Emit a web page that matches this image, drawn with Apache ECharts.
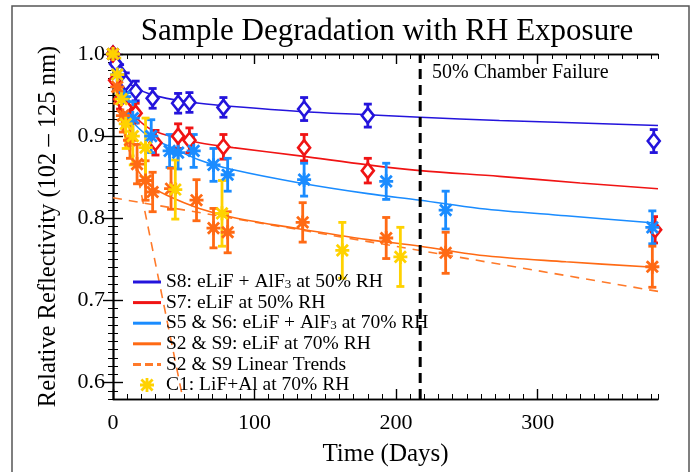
<!DOCTYPE html>
<html>
<head>
<meta charset="utf-8">
<script src="https://cdn.jsdelivr.net/npm/echarts@6/dist/echarts.min.js"></script>
<style>html,body{margin:0;padding:0;background:#fff}#c{width:700px;height:472px}</style>
</head>
<body>
<div id="c"></div>
<script>
// ---------- data ----------
const xMajorTicks = [0, 100, 200, 300];
const yMajorTicks = [0.6, 0.7, 0.8, 0.9, 1.0];
const chamberFailureDay = 217;

const s8Days = [0, 2, 5, 9, 16, 28, 46, 54, 78, 135, 180, 382];
const s8Vals = [1.0, 0.988, 0.977, 0.965, 0.955, 0.946, 0.940, 0.941, 0.935, 0.933, 0.925, 0.894];
const s8Err  = [0.005, 0.01, 0.01, 0.012, 0.012, 0.012, 0.012, 0.012, 0.012, 0.014, 0.014, 0.014];

const s7Days = [0, 1.5, 5, 9, 16, 30, 46, 54, 78, 135, 180, 383];
const s7Vals = [1.0, 0.968, 0.945, 0.935, 0.928, 0.892, 0.900, 0.895, 0.887, 0.886, 0.858, 0.786];
const s7Err  = [0.005, 0.012, 0.012, 0.012, 0.012, 0.015, 0.015, 0.015, 0.015, 0.016, 0.015, 0.016];

const s56Days = [0, 3, 8, 14, 27, 40, 46, 57, 71, 81, 135, 193, 235, 381];
const s56Vals = [1.0, 0.975, 0.948, 0.922, 0.900, 0.882, 0.880, 0.882, 0.865, 0.853, 0.847, 0.845, 0.810, 0.789];
const s56Err  = [0.005, 0.015, 0.018, 0.02, 0.02, 0.02, 0.02, 0.02, 0.02, 0.02, 0.02, 0.022, 0.023, 0.02];

const s29Days = [0, 3, 7, 12, 17, 23, 28, 41, 59, 71, 81, 134, 193, 235, 381];
const s29Vals = [1.0, 0.96, 0.925, 0.895, 0.866, 0.846, 0.832, 0.836, 0.822, 0.788, 0.783, 0.795, 0.776, 0.758, 0.741];
const s29Err  = [0.005, 0.02, 0.02, 0.022, 0.024, 0.024, 0.024, 0.025, 0.025, 0.024, 0.025, 0.024, 0.025, 0.025, 0.025];

const c1Days = [0, 3, 6, 9, 14, 23, 44, 77, 162, 203];
const c1Vals = [1.0, 0.975, 0.945, 0.915, 0.900, 0.886, 0.835, 0.806, 0.761, 0.753];
const c1Err  = [0.005, 0.02, 0.025, 0.03, 0.035, 0.036, 0.036, 0.04, 0.034, 0.036];

// fitted curves
const s8FitDays = [0, 3, 7, 14, 25, 38, 61, 85, 132, 180, 217, 273, 330, 385];
const s8FitVals = [1.0, 0.99, 0.974, 0.961, 0.952, 0.946, 0.940, 0.936, 0.930, 0.926, 0.923, 0.919, 0.916, 0.913];
const s7FitDays = [0, 2, 5, 9, 14, 25, 38, 61, 85, 132, 180, 217, 273, 330, 385];
const s7FitVals = [1.0, 0.975, 0.955, 0.940, 0.927, 0.910, 0.901, 0.892, 0.886, 0.876, 0.865, 0.858, 0.851, 0.843, 0.836];
const s56FitDays = [0, 3, 7, 14, 25, 38, 61, 85, 132, 180, 217, 259, 320, 385];
const s56FitVals = [1.0, 0.97, 0.945, 0.918, 0.900, 0.889, 0.871, 0.859, 0.843, 0.830, 0.822, 0.812, 0.803, 0.794];
const s29FitDays = [0, 3, 7, 14, 20, 26, 38, 61, 85, 132, 180, 217, 259, 320, 385];
const s29FitVals = [1.0, 0.95, 0.91, 0.87, 0.852, 0.840, 0.828, 0.812, 0.801, 0.787, 0.774, 0.766, 0.755, 0.747, 0.740];
const trendADays = [0, 385];
const trendAVals = [0.825, 0.711];
const trendBDays = [0, 49.4];
const trendBVals = [1.0, 0.58];

const names = {
  s8: 'S8: eLiF + AlF3 at 50% RH',
  s7: 'S7: eLiF at 50% RH',
  s56: 'S5 & S6: eLiF + AlF3 at 70% RH',
  s29: 'S2 & S9: eLiF at 70% RH',
  trend: 'S2 & S9 Linear Trends',
  c1: 'C1: LiF+Al at 70% RH'
};
const colors = { s8: '#2414dc', s7: '#f01414', s56: '#1a8cff', s29: '#ff6a14', trend: '#ff7a2a', c1: '#ffd200' };

// ---------- helpers ----------
const FONT = 'Liberation Serif';
const zip2 = (a, b) => a.map((v, i) => [v, b[i]]);
const zip3 = (a, b, c) => a.map((v, i) => [v, b[i], c[i]]);
const ASTER = 'path://M8,0 L12,0 L12,20 L8,20 Z M0,8 L20,8 L20,12 L0,12 Z M3.4,0.6 L19.4,16.6 L16.6,19.4 L0.6,3.4 Z M19.4,3.4 L3.4,19.4 L0.6,16.6 L16.6,0.6 Z';
const LINE_ICON = 'path://M0,0 L28,0 L28,3 L0,3 Z';
const DASH_ICON = 'path://M0,0 L8,0 L8,3 L0,3 Z M12,0 L20,0 L20,3 L12,3 Z M24,0 L28,0 L28,3 L24,3 Z';

function errSeries(name, data, color) {
  return {
    type: 'custom', name: name + ' err', data: data, clip: true, z: 3,
    renderItem: function (params, api) {
      const x = api.value(0), y = api.value(1), e = api.value(2);
      const t = api.coord([x, y + e]), b = api.coord([x, y - e]);
      const hw = 4;
      const st = { stroke: color, lineWidth: 2.8 };
      return { type: 'group', children: [
        { type: 'line', shape: { x1: t[0], y1: t[1], x2: b[0], y2: b[1] }, style: st },
        { type: 'line', shape: { x1: t[0] - hw, y1: t[1], x2: t[0] + hw, y2: t[1] }, style: st },
        { type: 'line', shape: { x1: b[0] - hw, y1: b[1], x2: b[0] + hw, y2: b[1] }, style: st }
      ]};
    }
  };
}
function fitSeries(name, days, vals, color, dashed) {
  return {
    type: 'line', name: name, data: zip2(days, vals), smooth: dashed ? false : 0.35,
    symbol: 'none', z: 2, clip: true,
    lineStyle: { color: color, width: 1.6, type: dashed ? [9, 7] : 'solid' },
    itemStyle: { color: color }
  };
}
function markSeries(name, days, vals, color, kind) {
  return {
    type: 'scatter', name: name, data: zip2(days, vals), z: 4, clip: true,
    symbol: kind === 'diamond' ? 'diamond' : ASTER,
    symbolSize: kind === 'diamond' ? [12, 15] : 14,
    itemStyle: kind === 'diamond'
      ? { color: '#ffffff', borderColor: color, borderWidth: 2.6, opacity: 1 }
      : { color: color, opacity: 1 }
  };
}

const axisLineStyle = { color: '#000', width: 1.4 };
function xAx(pos, major) {
  return {
    type: 'value', min: 0, max: 385, position: pos, gridIndex: 0,
    interval: major ? 100 : 10,
    axisLine: { show: true, lineStyle: axisLineStyle },
    axisTick: major ? { show: true, inside: true, length: 10, lineStyle: { color: '#000', width: 1.4 }, customValues: xMajorTicks }
                    : { show: true, inside: true, length: 5, lineStyle: { color: '#000', width: 1 } },
    axisLabel: (major && pos === 'bottom') ? { show: true, customValues: xMajorTicks, fontSize: 22, fontFamily: FONT, color: '#000', margin: 13 } : { show: false },
    splitLine: { show: false },
    name: (major && pos === 'bottom') ? 'Time (Days)' : '',
    nameLocation: 'middle', nameGap: 43,
    nameTextStyle: { fontSize: 25, fontFamily: FONT, color: '#000' }
  };
}
function yAx(pos, major) {
  return {
    type: 'value', min: 0.58, max: 1.0, position: pos, gridIndex: 0,
    interval: major ? 0.1 : 0.01,
    axisLine: { show: true, lineStyle: axisLineStyle },
    axisTick: major ? { show: true, inside: true, length: 10, lineStyle: { color: '#000', width: 1.4 }, customValues: yMajorTicks }
                    : { show: true, inside: true, length: 5, lineStyle: { color: '#000', width: 1 } },
    axisLabel: (major && pos === 'left') ? { show: true, customValues: yMajorTicks, fontSize: 22, fontFamily: FONT, color: '#000', margin: 8,
                                            formatter: v => v.toFixed(1) } : { show: false },
    splitLine: { show: false },
    name: (major && pos === 'left') ? 'Relative Reflectivity (102 \u2013 125 nm)' : '',
    nameLocation: 'middle', nameGap: 52, nameRotate: 90,
    nameTextStyle: { fontSize: 24.5, fontFamily: FONT, color: '#000' }
  };
}

const chart = echarts.init(document.getElementById('c'), null, { renderer: 'canvas' });
const option = {
  animation: false,
  backgroundColor: '#ffffff',
  textStyle: { fontFamily: FONT },
  grid: { left: 113, right: 42, top: 54, bottom: 72 },
  xAxis: [xAx('bottom', true), xAx('bottom', false), xAx('top', true), xAx('top', false)],
  yAxis: [yAx('left', true), yAx('left', false), yAx('right', true), yAx('right', false)],
  legend: {
    orient: 'vertical', left: 133, top: 272, padding: 0, itemWidth: 28, itemHeight: 14, itemGap: 0.6,
    symbolKeepAspect: true,
    textStyle: { fontSize: 19.5, fontFamily: FONT, color: '#000', lineHeight: 18,
      rich: { sub: { fontSize: 13, fontFamily: FONT, color: '#000', verticalAlign: 'bottom', lineHeight: 12, padding: [6, 0, 0, 0] } } },
    formatter: n => n.replace('AlF3', 'AlF{sub|3}'),
    data: [
      { name: names.s8, icon: LINE_ICON },
      { name: names.s7, icon: LINE_ICON },
      { name: names.s56, icon: LINE_ICON },
      { name: names.s29, icon: LINE_ICON },
      { name: names.trend, icon: DASH_ICON },
      { name: names.c1 }
    ]
  },
  graphic: [
    { type: 'rect', shape: { x: 12, y: 6, width: 677, height: 490 }, style: { fill: 'none', stroke: '#555', lineWidth: 1.5 }, silent: true, z: -10 },
    { type: 'text', x: 387, y: 32, style: { text: 'Sample Degradation with RH Exposure', font: '31px "Liberation Serif"', fill: '#000', textAlign: 'center', textVerticalAlign: 'middle' } },
    { type: 'text', x: 432, y: 73, style: { text: '50% Chamber Failure', font: '20px "Liberation Serif"', fill: '#000', textAlign: 'left', textVerticalAlign: 'middle' } }
  ],
  series: [
    fitSeries(names.trend, trendADays, trendAVals, colors.trend, true),
    fitSeries(names.trend, trendBDays, trendBVals, colors.trend, true),
    fitSeries(names.s8, s8FitDays, s8FitVals, colors.s8, false),
    fitSeries(names.s7, s7FitDays, s7FitVals, colors.s7, false),
    fitSeries(names.s56, s56FitDays, s56FitVals, colors.s56, false),
    fitSeries(names.s29, s29FitDays, s29FitVals, colors.s29, false),
    { type: 'line', name: 'chamber', data: [[chamberFailureDay, 0.58], [chamberFailureDay, 1.0]], symbol: 'none', z: 5,
      lineStyle: { color: '#000', width: 3, type: [10, 6] } },
    errSeries('s8', zip3(s8Days, s8Vals, s8Err), colors.s8),
    markSeries('s8 pts', s8Days, s8Vals, colors.s8, 'diamond'),
    errSeries('s7', zip3(s7Days, s7Vals, s7Err), colors.s7),
    markSeries('s7 pts', s7Days, s7Vals, colors.s7, 'diamond'),
    errSeries('s56', zip3(s56Days, s56Vals, s56Err), colors.s56),
    markSeries('s56 pts', s56Days, s56Vals, colors.s56, 'aster'),
    errSeries('s29', zip3(s29Days, s29Vals, s29Err), colors.s29),
    markSeries('s29 pts', s29Days, s29Vals, colors.s29, 'aster'),
    errSeries('c1', zip3(c1Days, c1Vals, c1Err), colors.c1),
    markSeries(names.c1, c1Days, c1Vals, colors.c1, 'aster')
  ]
};
chart.setOption(option);
</script>
</body>
</html>
